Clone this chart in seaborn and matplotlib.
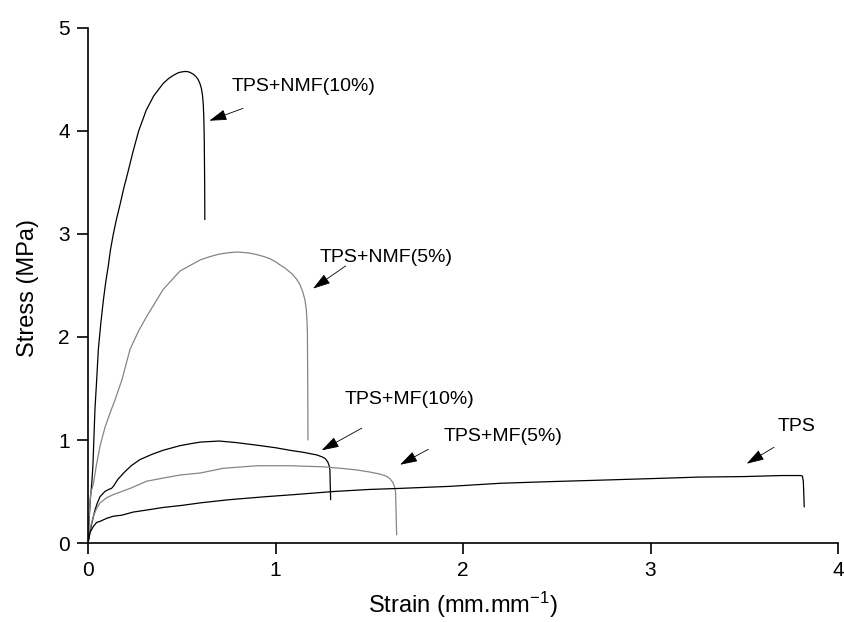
import numpy as np
import pandas as pd
import matplotlib
matplotlib.use("Agg")
import matplotlib.pyplot as plt
import seaborn as sns

# ---------------- data ----------------
nmf10_x = [0, 0.005, 0.012, 0.02, 0.026, 0.037, 0.046, 0.055, 0.068, 0.082, 0.095, 0.108,
           0.12, 0.135, 0.15, 0.17, 0.19, 0.21, 0.24, 0.27, 0.31, 0.35, 0.40, 0.43, 0.455,
           0.475, 0.49, 0.505, 0.52, 0.535, 0.548, 0.562, 0.575, 0.587, 0.597, 0.605,
           0.611, 0.615, 0.618, 0.62, 0.622, 0.623]
nmf10_y = [0, 0.2, 0.42, 0.58, 0.75, 1.3, 1.58, 1.88, 2.13, 2.36, 2.54, 2.69,
           2.85, 3.0, 3.13, 3.28, 3.44, 3.58, 3.8, 4.0, 4.2, 4.34, 4.46, 4.51, 4.54,
           4.56, 4.57, 4.575, 4.578, 4.575, 4.565, 4.55, 4.53, 4.5, 4.46, 4.41,
           4.34, 4.25, 4.1, 3.9, 3.5, 3.14]

nmf5_x = [0, 0.006, 0.014, 0.02, 0.028, 0.045, 0.064, 0.09, 0.117, 0.144, 0.18, 0.224,
          0.27, 0.313, 0.36, 0.40, 0.45, 0.49, 0.55, 0.6, 0.65, 0.70, 0.757, 0.80, 0.86,
          0.9, 0.94, 0.97, 1.0, 1.024, 1.05, 1.07, 1.09, 1.113, 1.13, 1.145, 1.157, 1.164,
          1.168, 1.17, 1.172, 1.173]
nmf5_y = [0, 0.25, 0.49, 0.52, 0.57, 0.76, 0.94, 1.12, 1.26, 1.39, 1.58, 1.88,
          2.06, 2.2, 2.34, 2.46, 2.56, 2.64, 2.70, 2.75, 2.78, 2.805, 2.82, 2.825, 2.815,
          2.80, 2.78, 2.76, 2.73, 2.70, 2.67, 2.64, 2.61, 2.56, 2.51, 2.44, 2.36, 2.27,
          2.15, 2.04, 1.5, 1.0]

mf10_x = [0, 0.01, 0.02, 0.037, 0.05, 0.064, 0.09, 0.11, 0.125, 0.135, 0.16, 0.19, 0.23,
          0.277, 0.34, 0.40, 0.49, 0.55, 0.6, 0.7, 0.79, 0.9, 1.0, 1.077, 1.15, 1.22, 1.25,
          1.265, 1.278, 1.286, 1.29, 1.292, 1.294]
mf10_y = [0, 0.1, 0.19, 0.32, 0.39, 0.45, 0.5, 0.52, 0.53, 0.55, 0.62, 0.68, 0.75,
          0.81, 0.86, 0.90, 0.945, 0.965, 0.98, 0.99, 0.975, 0.95, 0.925, 0.90, 0.88, 0.855,
          0.835, 0.82, 0.79, 0.75, 0.71, 0.55, 0.42]

mf5_x = [0, 0.01, 0.028, 0.045, 0.064, 0.1, 0.135, 0.18, 0.224, 0.313, 0.4, 0.49, 0.6,
         0.72, 0.9, 1.077, 1.255, 1.35, 1.43, 1.5, 1.555, 1.59, 1.61, 1.625, 1.634, 1.64,
         1.643, 1.646]
mf5_y = [0, 0.13, 0.26, 0.33, 0.39, 0.44, 0.47, 0.50, 0.53, 0.60, 0.63, 0.66, 0.68,
         0.725, 0.75, 0.75, 0.74, 0.725, 0.71, 0.69, 0.67, 0.65, 0.625, 0.59, 0.55, 0.5,
         0.3, 0.08]

tps_x = [0, 0.01, 0.028, 0.046, 0.064, 0.1, 0.135, 0.18, 0.24, 0.313, 0.4, 0.5, 0.6, 0.75,
         0.95, 1.1, 1.31, 1.5, 1.66, 1.93, 2.2, 2.45, 2.73, 3.0, 3.26, 3.5, 3.7, 3.8, 3.81,
         3.815, 3.82]
tps_y = [0, 0.1, 0.16, 0.2, 0.21, 0.24, 0.26, 0.27, 0.30, 0.32, 0.345, 0.365, 0.39, 0.42,
         0.45, 0.47, 0.50, 0.52, 0.53, 0.55, 0.58, 0.595, 0.61, 0.625, 0.64, 0.645, 0.655,
         0.655, 0.65, 0.6, 0.35]

series_names = ["TPS+NMF(10%)", "TPS+NMF(5%)", "TPS+MF(10%)", "TPS+MF(5%)", "TPS"]
series_x = [nmf10_x, nmf5_x, mf10_x, mf5_x, tps_x]
series_y = [nmf10_y, nmf5_y, mf10_y, mf5_y, tps_y]

# annotation positions: text anchor, arrow start, arrow tip
label_text_xy = [(0.766, 4.43), (1.237, 2.77), (1.371, 1.39), (1.895, 1.033), (3.676, 1.13)]
arrow_start_xy = [(0.827, 4.22), (1.374, 2.69), (1.46, 1.115), (1.815, 0.91), (3.659, 0.93)]
arrow_tip_xy = [(0.647, 4.10), (1.20, 2.47), (1.246, 0.90), (1.664, 0.76), (3.513, 0.77)]

x_ticks = [0, 1, 2, 3, 4]
y_ticks = [0, 1, 2, 3, 4, 5]

# ---------------- build table ----------------
frames = []
for name, xs, ys in zip(series_names, series_x, series_y):
    frames.append(pd.DataFrame({"series": name, "strain": xs, "stress": ys}))
df = pd.concat(frames, ignore_index=True)

palette = {"TPS+NMF(10%)": "#000000", "TPS+NMF(5%)": "#858585",
           "TPS+MF(10%)": "#000000", "TPS+MF(5%)": "#858585", "TPS": "#000000"}

# ---------------- style ----------------
sns.set_theme(style="ticks")
plt.rcParams["font.family"] = ["Liberation Sans", "DejaVu Sans"]
plt.rcParams["mathtext.fontset"] = "custom"
plt.rcParams["mathtext.rm"] = "Liberation Sans"
plt.rcParams["mathtext.default"] = "regular"

fig = plt.figure(figsize=(8.44, 6.22), dpi=100)
fig.patch.set_facecolor("white")
ax = fig.add_axes([0.1043, 0.127, 0.8886, 0.828])
ax.set_facecolor("white")

sns.lineplot(data=df, x="strain", y="stress", hue="series", palette=palette,
             estimator=None, sort=False, units="series", legend=False,
             linewidth=0.9, ax=ax)

ax.set_xlim(0, 4)
ax.set_ylim(0, 5)
ax.set_xticks(x_ticks)
ax.set_yticks(y_ticks)
ax.set_xticklabels([str(t) for t in x_ticks])
ax.set_yticklabels([str(t) for t in y_ticks])

for s in ["top", "right"]:
    ax.spines[s].set_visible(False)
for s in ["left", "bottom"]:
    ax.spines[s].set_linewidth(1.2)
    ax.spines[s].set_color("black")
ax.tick_params(axis="both", direction="out", length=8, width=1.2, pad=5,
               labelsize=15, colors="black")

ax.set_xlabel("Strain (mm.mm$^{-1}$)", fontsize=17, color="black")
ax.set_ylabel("Stress (MPa)", fontsize=17, color="black")
ax.xaxis.label.set_va("baseline")
ax.xaxis.set_label_coords(0.5, (543 - 613) / 515)
ax.yaxis.label.set_va("baseline")
ax.yaxis.set_label_coords((33.5 - 88) / 750, 0.496)

for name, txy, sxy, hxy in zip(series_names, label_text_xy, arrow_start_xy, arrow_tip_xy):
    ax.text(txy[0], txy[1], name, fontsize=14, ha="left", va="center", color="black")
    ax.annotate("", xy=hxy, xytext=sxy,
                arrowprops=dict(arrowstyle="-|>,head_length=0.9,head_width=0.28",
                                lw=0.6, color="black", mutation_scale=12,
                                shrinkA=0, shrinkB=0))

fig.savefig("out.png", dpi=100, facecolor="white")
